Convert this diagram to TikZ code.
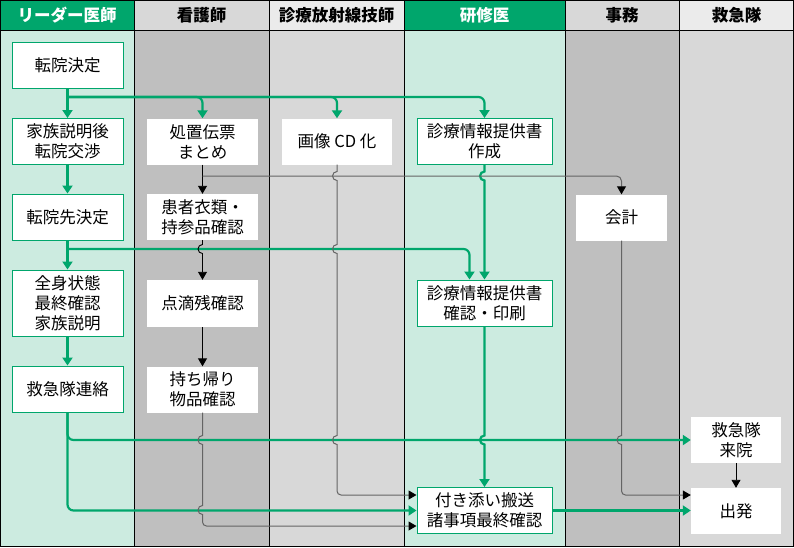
\documentclass[tikz,border=0pt]{standalone}
\usepackage{fontspec}
\setmainfont{Noto Sans CJK JP}
\usetikzlibrary{arrows.meta,positioning,calc}
\definecolor{hgreen}{RGB}{0,166,108}
\definecolor{lgreen}{RGB}{204,235,224}
\definecolor{dgray}{RGB}{191,191,191}
\definecolor{mgray}{RGB}{216,216,216}
\definecolor{lgray}{RGB}{235,235,235}
\definecolor{wire}{RGB}{100,100,100}

\tikzset{
  box/.style={fill=white,draw=none,minimum height=46pt,inner sep=0pt,align=center,
    font=\fontsize{16.5}{20}\selectfont},
  gbox/.style={box,draw=hgreen,line width=1pt},
  gline/.style={draw=hgreen,line width=2.2pt,-{Triangle[width=10pt,length=8pt]}},
  kline/.style={draw=black,line width=0.9pt,-{Triangle[width=9pt,length=8pt]}},
  wline/.style={draw=wire,line width=1pt,-{Triangle[width=9pt,length=8pt,black]}},
}
% jump of a vertical wire over a horizontal one at height #2
\newcommand\hopdown[2]{-- (#1 |- 0,#2-4.5) arc[start angle=90,end angle=270,radius=4.5pt]}

\begin{document}
\begin{tikzpicture}[x=1pt,y=-1pt]
\useasboundingbox (0,0) rectangle (794,547);
% lanes
\foreach \xa/\xb/\hc/\bc/\lbl/\tc [count=\i] in {0/134/hgreen/lgreen/リーダー医師/white,
    134/269/mgray/dgray/看護師/black, 269/404/lgray/mgray/診療放射線技師/black,
    404/565/hgreen/lgreen/研修医/white, 565/679/mgray/dgray/事務/black,
    679/794/lgray/mgray/救急隊/black} {
  \fill[\bc] (\xa,30) rectangle (\xb,546.5);
  \fill[\hc] (\xa,0) rectangle (\xb,30);
  \node[font=\bfseries\fontsize{16.5}{18}\selectfont,text=\tc] (h\i) at ({(\xa+\xb)/2},15) {\lbl};
  \draw[line width=1pt] (\xa,0) -- (\xa,546.5);
}
\draw[line width=1pt] (0.5,0.5) rectangle (793.5,546.5);
\draw[line width=1pt] (0,30) -- (794,30);

% リーダー医師
\node[gbox,minimum width=111pt] (n1) at (67.5,65.5) {転院決定};
\node[gbox,minimum width=111pt] (n2) at (67.5,141.5) {家族説明後\\転院交渉};
\node[gbox,minimum width=111pt] (n3) at (67.5,217) {転院先決定};
\node[gbox,minimum width=111pt,minimum height=66pt] (n4) at (67.5,303) {全身状態\\最終確認\\家族説明};
\node[gbox,minimum width=111pt] (n5) at (67.5,389) {救急隊連絡};
% 看護師
\node[box,minimum width=111pt] (m1) at (202.5,141.5) {処置伝票\\まとめ};
\node[box,minimum width=111pt] (m2) at (202.5,217) {患者衣類・\\持参品確認};
\node[box,minimum width=111pt,minimum height=47pt] (m3) at (202.5,303.5) {点滴残確認};
\node[box,minimum width=111pt] (m4) at (202.5,389.5) {持ち帰り\\物品確認};
% 診療放射線技師
\node[box,minimum width=110pt] (r1) at (337,141.5) {画像 CD 化};
% 研修医
\node[gbox,minimum width=135pt] (k1) at (484.5,141.5) {診療情報提供書\\作成};
\node[gbox,minimum width=135pt] (k2) at (484.5,303) {診療情報提供書\\確認・印刷};
\node[gbox,minimum width=135pt] (k3) at (484.5,510.5) {付き添い搬送\\諸事項最終確認};
% 事務
\node[box,minimum width=91pt] (j1) at (621.5,217.5) {会計};
% 救急隊
\node[box,minimum width=90pt] (q1) at (736,440) {救急隊\\来院};
\node[box,minimum width=90pt] (q2) at (736,511) {出発};

% green flow
\draw[gline] (n1) -- (n2);
\draw[gline] (n2) -- (n3);
\draw[gline] (n3) -- (n4);
\draw[gline] (n4) -- (n5);
\draw[gline,rounded corners=6pt] (n1.south |- 0,97) -| (m1.north);
\draw[gline,rounded corners=6pt] (n1.south |- 0,97) -| (r1.north);
\draw[gline,rounded corners=6pt] (n1.south |- 0,97) -| (k1.north);
\draw[gline,rounded corners=6pt] (n3.south |- 0,249) -| ([xshift=-15pt]k2.north);
\draw[gline] (k1.south) \hopdown{k1.south}{176} -- (k2.north);
\draw[gline] (k2.south) \hopdown{k2.south}{440} -- (k3.north);
\draw[gline,rounded corners=6pt] (n5.south) |- (q1.west);
\draw[gline,rounded corners=6pt] (n5.south) |- (k3.west);
\draw[gline] (k3.east) -- (q2.west |- k3.east);

% black and gray flow
\draw[kline] (m1) -- (m2);
\draw[wline,rounded corners=5pt] (m1.south |- 0,176) -| (j1.north);
\draw[kline] (m2.south) \hopdown{m2.south}{249} -- (m3.north);
\draw[kline] (m3) -- (m4);
\draw[wline] (m4.south) \hopdown{m4.south}{440} \hopdown{m4.south}{510}
  [rounded corners=4pt] -- (m4.south |- 0,526) -- (k3.west |- 0,526);
\draw[wline] (r1.south) \hopdown{r1.south}{176} \hopdown{r1.south}{249} \hopdown{r1.south}{440}
  [rounded corners=4pt] -- (r1.south |- 0,495) -- (k3.west |- 0,495);
\draw[wline] (j1.south) \hopdown{j1.south}{440}
  [rounded corners=4pt] -- (j1.south |- 0,495) -- (q2.west |- 0,495);
\draw[kline] (q1) -- (q2);
\end{tikzpicture}
\end{document}
